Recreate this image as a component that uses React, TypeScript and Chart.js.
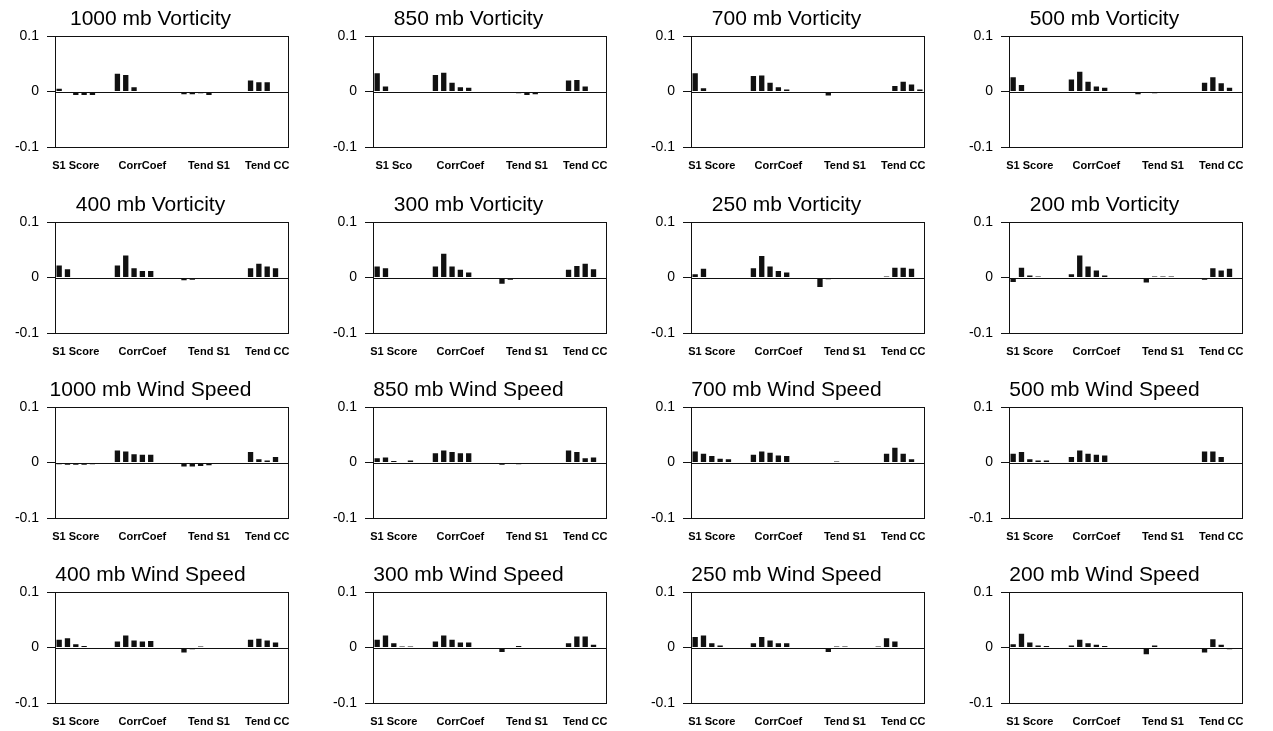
import React, { useEffect, useRef } from "react";
import { Chart, registerables } from "chart.js";

Chart.register(...registerables);

// ---------- DATA ----------
const xTickLabels = [
  "", "", "S1 Score", "", "", "", "",
  "", "", "", "CorrCoef", "", "", "",
  "", "", "", "", "Tend S1", "", "",
  "", "", "", "", "Tend CC", "", "",
];
const xTickLabelsCut = [
  "", "", "S1 Sco", "", "", "", "",
  "", "", "", "CorrCoef", "", "", "",
  "", "", "", "", "Tend S1", "", "",
  "", "", "", "", "Tend CC", "", "",
];

const panelTitles = [
  "1000 mb Vorticity", "850 mb Vorticity", "700 mb Vorticity", "500 mb Vorticity",
  "400 mb Vorticity", "300 mb Vorticity", "250 mb Vorticity", "200 mb Vorticity",
  "1000 mb Wind Speed", "850 mb Wind Speed", "700 mb Wind Speed", "500 mb Wind Speed",
  "400 mb Wind Speed", "300 mb Wind Speed", "250 mb Wind Speed", "200 mb Wind Speed",
];

const vort1000 = [0.005, 0, -0.006, -0.006, -0.006, 0, 0, 0.032, 0.030, 0.008, 0.001, 0.001, 0.001, 0, 0, -0.005, -0.005, -0.003, -0.006, 0, 0, 0, 0.001, 0.020, 0.017, 0.017, 0.001, 0];
const vort850 = [0.033, 0.009, -0.002, -0.002, -0.002, 0, 0, 0.030, 0.034, 0.016, 0.008, 0.007, 0.001, 0, 0, 0, -0.002, -0.003, -0.006, -0.005, 0, 0, 0, 0.020, 0.021, 0.009, 0.001, 0];
const vort700 = [0.033, 0.006, 0, 0, -0.002, 0, 0, 0.028, 0.029, 0.016, 0.008, 0.004, 0, 0, 0, 0, -0.007, -0.002, 0, -0.001, 0, 0, 0, 0, 0.010, 0.018, 0.013, 0.004];
const vort500 = [0.026, 0.012, 0, 0.001, 0.001, 0, 0, 0.022, 0.036, 0.018, 0.009, 0.007, 0.001, 0, 0, -0.005, 0, -0.003, -0.002, 0, 0, 0, 0, 0.016, 0.026, 0.015, 0.007, 0];
const vort400 = [0.022, 0.015, 0, 0, 0, 0, 0, 0.022, 0.040, 0.017, 0.012, 0.012, 0, 0, 0, -0.005, -0.004, -0.002, -0.001, 0, 0, 0, 0, 0.017, 0.025, 0.020, 0.017, 0];
const vort300 = [0.020, 0.017, 0, 0, 0, 0, 0, 0.020, 0.043, 0.020, 0.014, 0.009, 0, 0, 0, -0.011, -0.004, 0, 0, 0, 0, 0, 0, 0.014, 0.021, 0.025, 0.015, 0];
const vort250 = [0.006, 0.016, 0, 0, 0, 0, 0, 0.017, 0.039, 0.020, 0.012, 0.009, 0.001, 0, 0, -0.017, -0.003, 0, 0, 0, 0, 0, 0, 0.002, 0.018, 0.018, 0.016, 0];
const vort200 = [-0.008, 0.018, 0.004, 0.002, 0, 0, 0, 0.006, 0.040, 0.020, 0.013, 0.004, 0, 0, 0, 0, -0.009, 0.002, 0.002, 0.002, 0, 0, 0, -0.004, 0.017, 0.013, 0.016, 0];
const wind1000 = [-0.003, -0.004, -0.004, -0.004, -0.003, 0, 0, 0.022, 0.020, 0.015, 0.014, 0.014, 0, 0, 0, -0.007, -0.007, -0.006, -0.005, -0.002, 0, 0, 0, 0.019, 0.006, 0.004, 0.010, 0];
const wind850 = [0.008, 0.009, 0.003, 0, 0.004, 0, 0, 0.017, 0.022, 0.019, 0.017, 0.017, 0, 0, 0, -0.004, 0, -0.003, 0, 0, 0, 0, 0, 0.022, 0.019, 0.008, 0.009, 0];
const wind700 = [0.020, 0.016, 0.012, 0.007, 0.006, 0, 0, 0.014, 0.020, 0.018, 0.013, 0.012, 0, 0, 0, 0, -0.002, 0.002, 0.001, 0, 0, 0, 0, 0.016, 0.027, 0.016, 0.006, 0];
const wind500 = [0.016, 0.019, 0.006, 0.004, 0.004, 0, 0, 0.010, 0.022, 0.016, 0.014, 0.013, 0, 0, 0, 0, -0.002, 0, 0, 0, 0, 0, 0, 0.020, 0.020, 0.010, 0, 0];
const wind400 = [0.014, 0.017, 0.006, 0.003, 0, 0, 0, 0.011, 0.022, 0.013, 0.011, 0.012, 0, 0, 0, -0.009, -0.003, 0.002, 0, 0, 0, 0, 0, 0.014, 0.016, 0.013, 0.009, 0];
const wind300 = [0.014, 0.022, 0.008, 0.002, 0.002, 0, 0, 0.011, 0.022, 0.014, 0.009, 0.009, 0, 0, 0, -0.008, 0, 0.003, 0, 0, 0, 0, 0, 0.008, 0.020, 0.020, 0.005, 0];
const wind250 = [0.019, 0.022, 0.008, 0.004, 0, 0, 0, 0.008, 0.019, 0.013, 0.008, 0.008, 0, 0, 0, 0, -0.008, 0.002, 0.002, 0, 0, 0, 0.002, 0.017, 0.011, 0, 0, 0];
const wind200 = [0.006, 0.025, 0.009, 0.004, 0.003, 0, 0, 0.004, 0.014, 0.008, 0.005, 0.003, 0, 0, 0, 0, -0.012, 0.004, 0, 0, 0, 0, 0, -0.009, 0.015, 0.005, -0.003, 0];

const panelValues = [
  vort1000, vort850, vort700, vort500,
  vort400, vort300, vort250, vort200,
  wind1000, wind850, wind700, wind500,
  wind400, wind300, wind250, wind200,
];

const yTickValues = [-0.1, 0, 0.1];

// ---------- LAYOUT ----------
const FONT = "'Liberation Sans', Arial, Helvetica, sans-serif";
const CELL_W = 318;
const rowBoxes = [
  { top: 0, h: 173 },
  { top: 186, h: 173 },
  { top: 371, h: 173 },
  { top: 556, h: 173 },
];

const framePlugin = {
  id: "frameAndZero",
  afterDatasetsDraw(chart: any) {
    const { ctx, chartArea, scales } = chart;
    ctx.save();
    ctx.strokeStyle = "#111";
    ctx.lineWidth = 1;
    ctx.strokeRect(
      Math.round(chartArea.left) + 0.5,
      Math.round(chartArea.top) + 0.5,
      Math.round(chartArea.right - chartArea.left),
      Math.round(chartArea.bottom - chartArea.top)
    );
    const y0 = Math.round(scales.y.getPixelForValue(0)) + 0.5;
    ctx.beginPath();
    ctx.moveTo(chartArea.left, y0);
    ctx.lineTo(chartArea.right, y0);
    ctx.stroke();
    ctx.restore();
  },
};

function Panel({ title, values, labels, width, height }: any) {
  const ref = useRef<HTMLCanvasElement | null>(null);
  useEffect(() => {
    if (!ref.current) return;
    const chart = new Chart(ref.current, {
      type: "bar",
      data: {
        labels,
        datasets: [
          {
            data: values,
            backgroundColor: "#111",
            borderWidth: 0,
            barPercentage: 0.64,
            categoryPercentage: 1,
          },
        ],
      },
      options: {
        responsive: false,
        animation: false,
        devicePixelRatio: 1,
        layout: { padding: { left: 13, right: 30, top: 0, bottom: 0 } },
        plugins: {
          legend: { display: false },
          tooltip: { enabled: false },
          title: {
            display: true,
            text: title,
            color: "#000",
            font: { family: FONT, size: 21, weight: "normal" },
            padding: { top: 7, bottom: 4 },
          },
        },
        scales: {
          x: {
            type: "category",
            grid: { display: false, drawTicks: false },
            border: { display: false },
            afterFit: (scale: any) => {
              scale.height = 26;
            },
            ticks: {
              autoSkip: false,
              maxRotation: 0,
              minRotation: 0,
              padding: 12,
              color: "#000",
              font: { family: FONT, size: 11, weight: "bold" },
            },
          },
          y: {
            min: -0.1,
            max: 0.1,
            afterBuildTicks: (scale: any) => {
              scale.ticks = yTickValues.map((v) => ({ value: v }));
            },
            afterFit: (scale: any) => {
              scale.width = 42;
            },
            grid: {
              drawOnChartArea: false,
              drawTicks: true,
              tickLength: 8,
              color: "#111",
            },
            border: { display: false },
            ticks: {
              padding: 8,
              color: "#000",
              font: { family: FONT, size: 14 },
              callback: (v: any) => String(Math.round(Number(v) * 10) / 10),
            },
          },
        },
      },
      plugins: [framePlugin],
    } as any);
    return () => chart.destroy();
  }, [title, values, labels, width, height]);
  return <canvas ref={ref} width={width} height={height} style={{ display: "block" }} />;
}

export default function App() {
  useEffect(() => {
    document.body.style.margin = "0";
    document.body.style.overflow = "hidden";
  }, []);
  return (
    <div
      style={{
        position: "fixed",
        left: 0,
        top: 0,
        width: 1273,
        height: 731,
        background: "#fff",
        overflow: "hidden",
      }}
    >
      {panelTitles.map((t, i) => {
        const row = Math.floor(i / 4);
        const col = i % 4;
        const box = rowBoxes[row];
        return (
          <div
            key={t}
            style={{ position: "absolute", left: col * CELL_W, top: box.top, width: CELL_W, height: box.h }}
          >
            <Panel
              title={t}
              values={panelValues[i]}
              labels={i === 1 ? xTickLabelsCut : xTickLabels}
              width={CELL_W}
              height={box.h}
            />
          </div>
        );
      })}
    </div>
  );
}
